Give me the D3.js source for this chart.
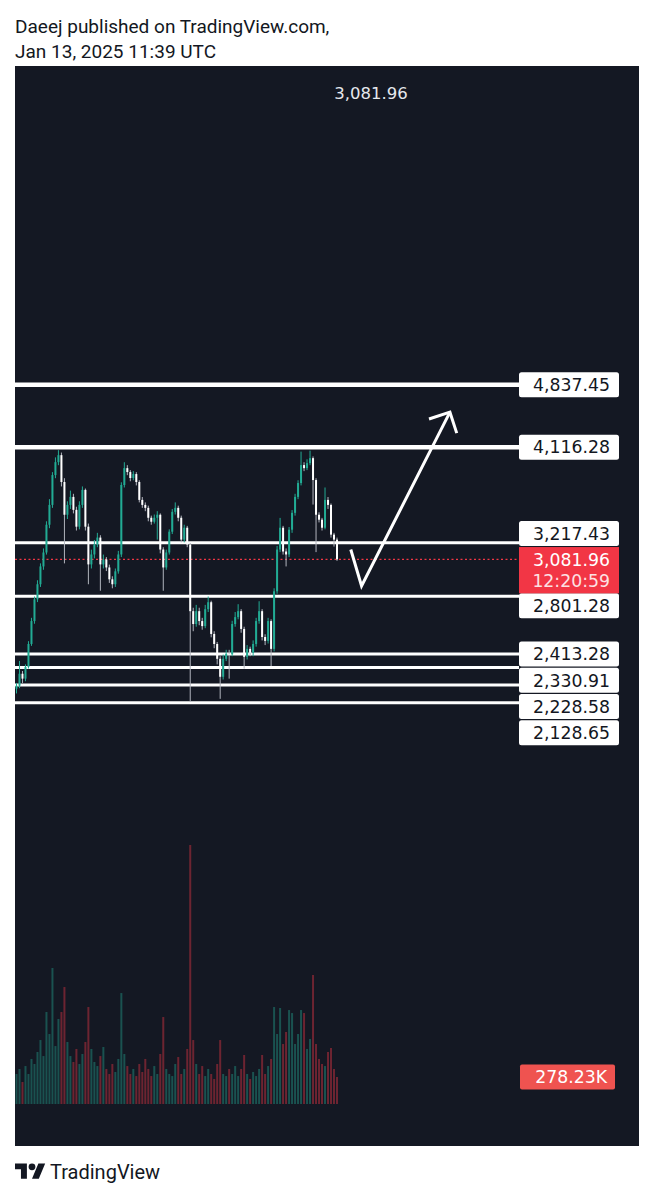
<!DOCTYPE html>
<html>
<head>
<meta charset="utf-8">
<script src="https://cdn.jsdelivr.net/npm/d3@7"></script>
<style>
  html, body { margin: 0; padding: 0; background: #ffffff; }
  svg { display: block; }
</style>
</head>
<body>
<svg id="chart" width="654" height="1200"></svg>
<script>
// ---------------- DATA ----------------
const headerLines = ["Daeej published on TradingView.com,", "Jan 13, 2025 11:39 UTC"];
const lastPrice = 3081.96;
const countdown = "12:20:59";
const lastVolumeLabel = "278.23K";
const firstOpen = 2207;

// horizontal levels drawn by the author
const levels = [4837.45, 4116.28, 3217.43, 2801.28, 2413.28, 2330.91, 2228.58, 2128.65];
const levelLabels = ["4,837.45", "4,116.28", "3,217.43", "2,801.28", "2,413.28", "2,330.91", "2,228.58", "2,128.65"];

// candle closes / highs / lows (open = previous close)
const closes = [2224,2294,2265,2335,2477,2628,2780,2890,3026,3137,
3370,3547,3831,3961,4033,3763,3458,3547,3621,3502,
3353,3547,3687,3353,3042,3121,3202,3260,3042,3081,
3018,2927,2890,2988,3121,3734,3900,3861,3802,3841,
3763,3593,3547,3520,3431,3396,3431,3458,3161,3018,
3137,3310,3484,3520,3431,3243,3344,3202,2696,2608,
2696,2628,2594,2710,2759,2542,2477,2384,2276,2384,
2415,2412,2608,2655,2696,2575,2396,2446,2421,2477,
2628,2696,2522,2497,2628,2446,2838,3161,3344,3145,
3121,3327,3475,3621,3753,3931,3900,3951,4002,3782,
3458,3414,3344,3593,3547,3285,3243,3081.96];

const highs = [2240,2371,2310,2350,2495,2650,2800,2920,3050,3170,
3400,3600,3860,4010,4085,4060,3800,3580,3680,3650,
3530,3580,3720,3700,3380,3160,3240,3300,3280,3120,
3100,3040,2950,3010,3150,3760,3960,3930,3880,3870,
3860,3780,3620,3570,3540,3450,3460,3490,3470,3180,
3160,3330,3510,3570,3540,3450,3370,3360,3215,2720,
2740,2720,2650,2740,2800,2770,2560,2490,2400,2410,
2440,2440,2630,2690,2745,2710,2590,2470,2460,2500,
2650,2766,2710,2540,2650,2640,2860,3190,3430,3360,
3170,3350,3500,3650,3780,4070,3960,3990,4080,4020,
3800,3480,3430,3710,3620,3560,3300,3260];

const lows = [2180,2210,2240,2250,2325,2465,2610,2760,2870,3000,
3120,3340,3520,3800,3930,3720,3050,3420,3510,3470,
3320,3330,3520,3320,2890,3010,3090,3180,2842,3010,
2990,2900,2860,2870,2970,3100,3710,3830,3770,3780,
3730,3570,3520,3490,3400,3370,3380,3243,3130,2842,
3000,3120,3290,3460,3400,3220,3220,3180,2135,2560,
2590,2600,2570,2580,2690,2520,2450,2350,2150,2260,
2370,2265,2400,2590,2640,2550,2324,2380,2400,2400,
2460,2610,2500,2470,2480,2340,2430,2820,3140,3120,
3026,3100,3300,3450,3600,3730,3870,3880,3930,3550,
3140,3390,3320,3330,3510,3260,3185,3070];

// volume in thousands
const volumes = [309,361,227,391,309,464,412,536,659,494,
948,721,1401,597,876,948,1205,639,494,433,
567,412,515,639,999,567,433,391,494,587,
361,309,412,330,464,1143,515,391,309,361,
288,412,330,464,361,288,391,309,515,896,
361,309,288,412,484,309,361,567,2668,659,
412,309,391,288,361,309,258,412,659,309,
288,361,309,391,288,361,505,309,258,330,
288,361,505,309,391,464,999,721,989,618,
742,968,937,618,721,968,937,567,670,1329,
618,464,412,391,536,577,361,278.23];

// projected path drawn by the author (bar index, price)
const arrowBars = [111.6, 115.2, 144.7];
const arrowPrices = [3161, 2877, 4506];

// ---------------- CHART ----------------
const svg = d3.select("#chart");
const panel = {x0: 15, x1: 639, y0: 66, y1: 1146};
const labelX0 = 519, labelX1 = 619;

const n = closes.length;
const opens = closes.map((c, i) => i === 0 ? firstOpen : closes[i - 1]);
const candles = closes.map((c, i) => ({i, o: opens[i], h: highs[i], l: lows[i], c, v: volumes[i]}));

const x = d3.scaleLinear().domain([0, n - 1]).range([16.5, 337]);
const y = d3.scaleLog().domain([2128.65, 4837.45]).range([702.7, 384.7]);
const yv = d3.scaleLinear().domain([0, d3.max(volumes)]).range([1104, 845]);

// header
svg.selectAll("text.header").data(headerLines).join("text")
  .attr("class", "header")
  .attr("x", 15).attr("y", (d, i) => 33 + i * 25)
  .attr("font-family", "Roboto, sans-serif").attr("font-size", 19)
  .attr("fill", "#131722").text(d => d);

// panel
svg.append("rect").attr("x", panel.x0).attr("y", panel.y0)
  .attr("width", panel.x1 - panel.x0).attr("height", panel.y1 - panel.y0)
  .attr("fill", "#141823");

// top price text
svg.append("text").attr("x", 371).attr("y", 99).attr("text-anchor", "middle")
  .attr("font-family", "DejaVu Sans, sans-serif").attr("font-size", 16.5)
  .attr("fill", "#e6e8ee").text(d3.format(",.2f")(lastPrice));

// volume bars
const upC = "#22ab94", dnC = "#f23645";
svg.append("g").selectAll("rect").data(candles).join("rect")
  .attr("x", d => x(d.i) - 1).attr("width", 2)
  .attr("y", d => yv(d.v)).attr("height", d => yv(0) - yv(d.v))
  .attr("fill", d => d.c >= d.o ? upC : dnC).attr("opacity", 0.4);

// level lines
svg.append("g").selectAll("line").data(levels).join("line")
  .attr("x1", panel.x0).attr("x2", labelX0)
  .attr("y1", d => y(d)).attr("y2", d => y(d))
  .attr("stroke", "#ffffff").attr("stroke-width", (d, i) => i < 2 ? 4.5 : 3);

// current price dotted line
svg.append("line").attr("x1", panel.x0).attr("x2", labelX0)
  .attr("y1", y(lastPrice)).attr("y2", y(lastPrice))
  .attr("stroke", "#f23645").attr("stroke-width", 1.3).attr("stroke-dasharray", "2,2.5");

// candles
const gC = svg.append("g");
gC.selectAll("line").data(candles).join("line")
  .attr("x1", d => x(d.i)).attr("x2", d => x(d.i))
  .attr("y1", d => y(d.h)).attr("y2", d => y(d.l))
  .attr("stroke", d => d.c >= d.o ? upC : "#b2b5be").attr("stroke-width", 1);
gC.selectAll("rect").data(candles).join("rect")
  .attr("x", d => x(d.i) - 1).attr("width", 2)
  .attr("y", d => y(Math.max(d.o, d.c)))
  .attr("height", d => Math.max(1, Math.abs(y(d.o) - y(d.c))))
  .attr("fill", d => d.c >= d.o ? upC : "#ffffff");

// arrow
const ap = arrowBars.map((b, i) => [x(b), y(arrowPrices[i])]);
svg.append("path").attr("d", d3.line()(ap))
  .attr("fill", "none").attr("stroke", "#ffffff").attr("stroke-width", 3)
  .attr("stroke-linejoin", "miter");
{
  const [a, b] = [ap[ap.length - 2], ap[ap.length - 1]];
  const ang = Math.atan2(a[1] - b[1], a[0] - b[0]);
  const L = 22;
  const h1 = [b[0] + L * Math.cos(ang + Math.PI / 4), b[1] + L * Math.sin(ang + Math.PI / 4)];
  const h2 = [b[0] + L * Math.cos(ang - Math.PI / 4), b[1] + L * Math.sin(ang - Math.PI / 4)];
  svg.append("path").attr("d", d3.line()([h1, b, h2]))
    .attr("fill", "none").attr("stroke", "#ffffff").attr("stroke-width", 3);
}

// price labels with collision handling
const labH = 25, gap = 1.25;
const yLast = y(lastPrice);
const redTop = yLast - 12.3, redH = 46.3, redBottom = redTop + redH;
const labs = levels.map((p, i) => ({p, t: levelLabels[i], yc: y(p)}));
const above = labs.filter(d => d.yc < yLast).sort((a, b) => b.yc - a.yc);
let lim = redTop - 1;
above.forEach(d => { const bot = Math.min(d.yc + labH / 2, lim); d.top = bot - labH; lim = d.top - gap; });
const below = labs.filter(d => d.yc >= yLast).sort((a, b) => a.yc - b.yc);
lim = redBottom;
below.forEach(d => { d.top = Math.max(d.yc - labH / 2, lim); lim = d.top + labH + gap; });

const gL = svg.append("g");
gL.selectAll("rect").data(labs).join("rect")
  .attr("x", labelX0).attr("width", labelX1 - labelX0)
  .attr("y", d => d.top).attr("height", labH).attr("rx", 2.5)
  .attr("fill", "#ffffff");
gL.selectAll("text").data(labs).join("text")
  .attr("x", 610).attr("y", d => d.top + labH / 2 + 6.2).attr("text-anchor", "end")
  .attr("font-family", "DejaVu Sans, sans-serif").attr("font-size", 17.3)
  .attr("fill", "#131722").text(d => d.t);

// current price label
svg.append("rect").attr("x", labelX0).attr("y", redTop).attr("width", labelX1 - labelX0)
  .attr("height", redH).attr("fill", "#f23645");
svg.append("text").attr("x", 610).attr("y", yLast + 6.2).attr("text-anchor", "end")
  .attr("font-family", "DejaVu Sans, sans-serif").attr("font-size", 17.3)
  .attr("fill", "#ffffff").text(d3.format(",.2f")(lastPrice));
svg.append("text").attr("x", 610).attr("y", yLast + 6.2 + 21).attr("text-anchor", "end")
  .attr("font-family", "DejaVu Sans, sans-serif").attr("font-size", 17.3)
  .attr("fill", "#ffffff").attr("opacity", 0.85).text(countdown);

// volume label
const vLast = volumes[volumes.length - 1];
svg.append("rect").attr("x", labelX0 + 1).attr("y", yv(vLast) - 12.5).attr("width", 95)
  .attr("height", 25).attr("rx", 2).attr("fill", "#ef5350");
svg.append("text").attr("x", 607).attr("y", yv(vLast) + 6.2).attr("text-anchor", "end")
  .attr("font-family", "DejaVu Sans, sans-serif").attr("font-size", 17.3)
  .attr("fill", "#ffffff").text(lastVolumeLabel);

// footer logo
const logo = svg.append("g").attr("transform", "translate(15,1160) scale(0.85)");
logo.append("path").attr("d", "M14 22H7V11H0V4h14v18zM28 22h-8l7.5-18h8L28 22z").attr("fill", "#131722");
logo.append("circle").attr("cx", 20).attr("cy", 8).attr("r", 4).attr("fill", "#131722");
svg.append("text").attr("x", 50).attr("y", 1179)
  .attr("font-family", "Roboto, sans-serif").attr("font-size", 20)
  .attr("fill", "#131722").text("TradingView");
</script>
</body>
</html>
